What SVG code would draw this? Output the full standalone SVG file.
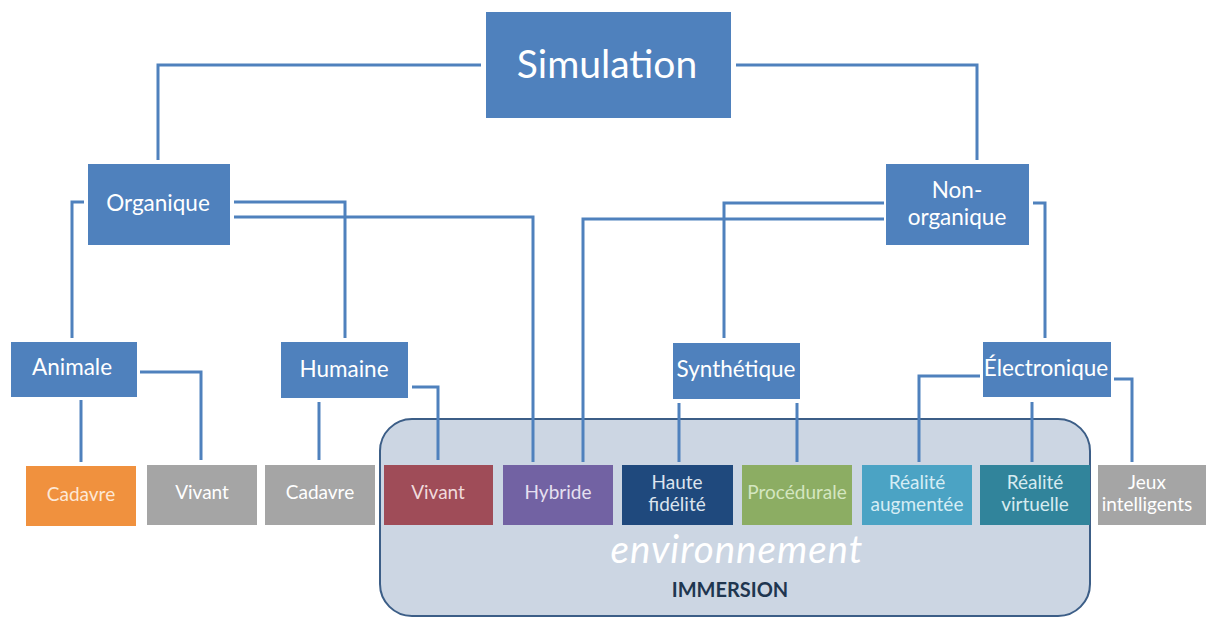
<svg xmlns="http://www.w3.org/2000/svg" width="1206" height="619" viewBox="0 0 1206 619">
<style>
.bg{fill:#ffffff}
.blue{fill:#4F81BD}
.t{font-family:Lato,"Liberation Sans",sans-serif;fill:#ffffff;text-anchor:middle}
.n{font-size:22.5px}
.l{font-size:19px}
.c path{fill:none;stroke:#4F81BD;stroke-width:3}
</style>
<rect class="bg" x="0" y="0" width="1206" height="619"/>
<g id="immersion">
<rect x="380" y="419" width="710" height="197" rx="32" ry="32" fill="#CCD6E3" stroke="#3C5E87" stroke-width="2"/>
<text x="737" y="563" font-family="Lato,'Liberation Sans',sans-serif" font-size="38.5" font-style="italic" fill="#ffffff" text-anchor="middle" letter-spacing="1">environnement</text>
<text x="730" y="597" font-family="Lato,'Liberation Sans',sans-serif" font-size="20" font-weight="bold" fill="#1F3650" text-anchor="middle">IMMERSION</text>
</g>
<g class="c" id="connectors">
<path d="M481 65 H158 V160"/>
<path d="M736 65 H977 V160"/>
<path d="M84 202 H72 V338"/>
<path d="M234 202 H345 V338"/>
<path d="M234 217 H533 V462"/>
<path d="M884 203 H724 V338"/>
<path d="M884 219 H583 V462"/>
<path d="M1033 203 H1045 V338"/>
<path d="M140 372 H201 V460"/>
<path d="M81 400 V462"/>
<path d="M319 402 V460"/>
<path d="M412 387 H438 V460"/>
<path d="M679 403 V462"/>
<path d="M797 403 V462"/>
<path d="M980 376 H919 V462"/>
<path d="M1032 402 V462"/>
<path d="M1114 379 H1132 V462"/>
</g>
<g id="simulation"><rect class="blue" x="486" y="12" width="245" height="106"/><text class="t" x="607" y="78" font-size="39">Simulation</text></g>
<g id="organique"><rect class="blue" x="88" y="164" width="142" height="81"/><text class="t n" x="158" y="211">Organique</text></g>
<g id="nonorganique"><rect class="blue" x="886" y="164" width="143" height="81"/><text class="t n" x="957" y="198">Non-</text><text class="t n" x="957" y="225">organique</text></g>
<g id="animale"><rect class="blue" x="11" y="342" width="126" height="55"/><text class="t n" x="72" y="375">Animale</text></g>
<g id="humaine"><rect class="blue" x="281" y="342" width="127" height="56"/><text class="t n" x="344" y="377">Humaine</text></g>
<g id="synthetique"><rect class="blue" x="673" y="343" width="127" height="56"/><text class="t n" x="736" y="377">Synthétique</text></g>
<g id="electronique"><rect class="blue" x="983" y="342" width="128" height="55"/><text class="t n" x="1046" y="376">Électronique</text></g>
<g id="cadavre1"><rect x="26" y="466" width="110" height="60" fill="#F0913E"/><text class="t l" x="81" y="501" style="fill:#FDE8D6">Cadavre</text></g>
<g id="vivant1"><rect x="147" y="465" width="110" height="60" fill="#A5A5A5"/><text class="t l" x="202" y="499">Vivant</text></g>
<g id="cadavre2"><rect x="265" y="465" width="110" height="60" fill="#A5A5A5"/><text class="t l" x="320" y="499">Cadavre</text></g>
<g id="vivant2"><rect x="384" y="465" width="109" height="60" fill="#9F4C58"/><text class="t l" x="438" y="499" style="fill:#F0DADC">Vivant</text></g>
<g id="hybride"><rect x="503" y="465" width="110" height="60" fill="#7262A3"/><text class="t l" x="558" y="499" style="fill:#E6E0F0">Hybride</text></g>
<g id="haute"><rect x="622" y="465" width="111" height="60" fill="#1F497D"/><text class="t l" x="677" y="489" style="fill:#DCE4EE">Haute</text><text class="t l" x="677" y="511" style="fill:#DCE4EE">fidélité</text></g>
<g id="procedurale"><rect x="742" y="465" width="110" height="60" fill="#8CAD63"/><text class="t l" x="797" y="499" style="fill:#D4E6C0">Procédurale</text></g>
<g id="augmentee"><rect x="862" y="465" width="110" height="60" fill="#4BA3C4"/><text class="t l" x="917" y="489" style="fill:#D6EDF5">Réalité</text><text class="t l" x="917" y="511" style="fill:#D6EDF5">augmentée</text></g>
<g id="virtuelle"><rect x="980" y="465" width="110" height="60" fill="#31849B"/><text class="t l" x="1035" y="489" style="fill:#D6EBF0">Réalité</text><text class="t l" x="1035" y="511" style="fill:#D6EBF0">virtuelle</text></g>
<g id="jeux"><rect x="1098" y="465" width="108" height="60" fill="#A5A5A5"/><text class="t l" x="1147" y="489">Jeux</text><text class="t l" x="1147" y="511">intelligents</text></g>
</svg>
